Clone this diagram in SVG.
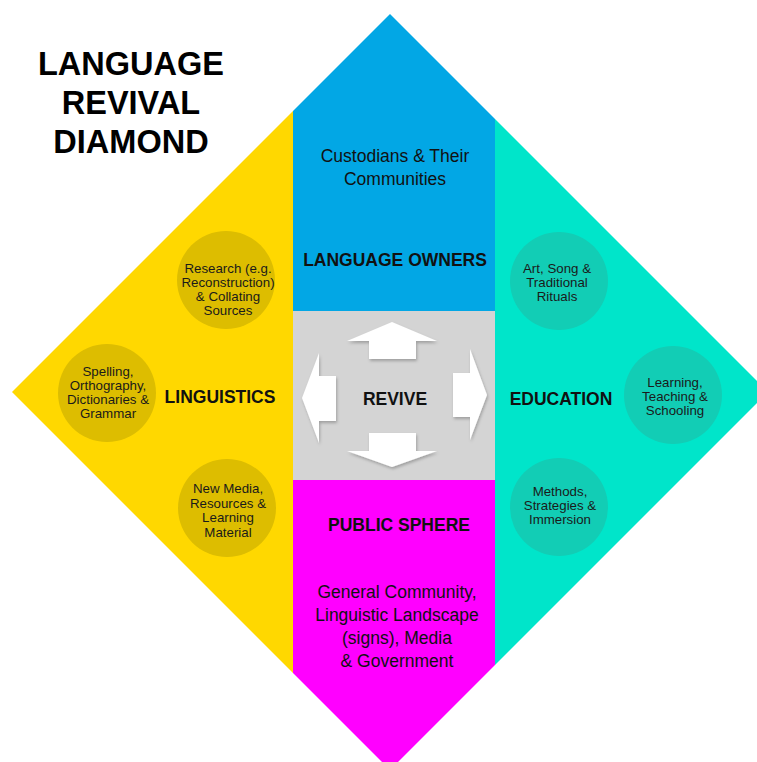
<svg xmlns="http://www.w3.org/2000/svg" width="757" height="762" viewBox="0 0 757 762">
<style>
text{font-family:"Liberation Sans",Arial,Helvetica,sans-serif;fill:#111;text-anchor:middle}
.t{font-weight:bold;font-size:32.5px;fill:#000}
.h{font-weight:bold;font-size:17.5px}
.b{font-size:17.5px}
.c{font-size:13.3px;fill:#1a1a1a}
.cy{fill:#DDBD00}
.ct{fill:#12CDB5}
.arr{fill:#fff;filter:url(#sh)}
</style>
<defs>
<clipPath id="dia"><polygon points="390,14 768,392 390,770 12,392"/></clipPath>
<filter id="sh" x="-20%" y="-20%" width="140%" height="140%"><feDropShadow dx="1" dy="2" stdDeviation="1.5" flood-color="#000" flood-opacity="0.25"/></filter>
</defs>
<rect width="757" height="762" fill="#fff"/>
<g id="title">
<text class="t" x="131" y="75">LANGUAGE</text>
<text class="t" x="131" y="114">REVIVAL</text>
<text class="t" x="131" y="153">DIAMOND</text>
</g>
<g id="diamond" clip-path="url(#dia)">
<rect x="0" y="0" width="293" height="780" fill="#FFD800"/>
<rect x="293" y="0" width="202" height="311" fill="#02A7E5"/>
<rect x="293" y="311" width="202" height="169" fill="#D4D4D4"/>
<rect x="293" y="480" width="202" height="300" fill="#FF00FF"/>
<rect x="495" y="0" width="280" height="780" fill="#00E5CA"/>
</g>
<g id="linguistics">
<text class="h" x="220" y="403">LINGUISTICS</text>
</g>
<g id="c-research">
<circle class="cy" cx="226" cy="280" r="49"/>
<text class="c" x="228" y="273">Research (e.g.</text>
<text class="c" x="228" y="287">Reconstruction)</text>
<text class="c" x="228" y="301">&amp; Collating</text>
<text class="c" x="228" y="315">Sources</text>
</g>
<g id="c-spelling">
<circle class="cy" cx="107" cy="393" r="49"/>
<text class="c" x="108" y="376">Spelling,</text>
<text class="c" x="108" y="390">Orthography,</text>
<text class="c" x="108" y="404">Dictionaries &amp;</text>
<text class="c" x="108" y="418">Grammar</text>
</g>
<g id="c-newmedia">
<circle class="cy" cx="227" cy="508" r="49"/>
<text class="c" x="228" y="493">New Media,</text>
<text class="c" x="228" y="508">Resources &amp;</text>
<text class="c" x="228" y="522">Learning</text>
<text class="c" x="228" y="537">Material</text>
</g>
<g id="owners">
<text class="b" x="395" y="162">Custodians &amp; Their</text>
<text class="b" x="395" y="185">Communities</text>
<text class="h" x="395" y="266">LANGUAGE OWNERS</text>
</g>
<g id="revive">
<polygon class="arr" points="392,322 437,341 416,341 416,359 369,359 369,341 347,341"/>
<polygon class="arr" points="369,433 416,433 416,451 437,451 392,467 347,451 369,451"/>
<polygon class="arr" points="302,398 319,353 319,376 336,376 336,421 319,421 319,443"/>
<polygon class="arr" points="453,373 470,373 470,349 487,395 470,440 470,417 453,417"/>
<text class="h" x="395" y="405">REVIVE</text>
</g>
<g id="public">
<text class="h" x="399" y="531">PUBLIC SPHERE</text>
<text class="b" x="397" y="598">General Community,</text>
<text class="b" x="397" y="621">Linguistic Landscape</text>
<text class="b" x="397" y="644">(signs), Media</text>
<text class="b" x="397" y="667">&amp; Government</text>
</g>
<g id="education">
<text class="h" x="561" y="405">EDUCATION</text>
</g>
<g id="c-art">
<circle class="ct" cx="559" cy="281" r="49"/>
<text class="c" x="557" y="273">Art, Song &amp;</text>
<text class="c" x="557" y="287">Traditional</text>
<text class="c" x="557" y="301">Rituals</text>
</g>
<g id="c-learning">
<circle class="ct" cx="673" cy="395" r="49"/>
<text class="c" x="675" y="387">Learning,</text>
<text class="c" x="675" y="401">Teaching &amp;</text>
<text class="c" x="675" y="415">Schooling</text>
</g>
<g id="c-methods">
<circle class="ct" cx="559" cy="507" r="49"/>
<text class="c" x="560" y="496">Methods,</text>
<text class="c" x="560" y="510">Strategies &amp;</text>
<text class="c" x="560" y="524">Immersion</text>
</g>
</svg>
